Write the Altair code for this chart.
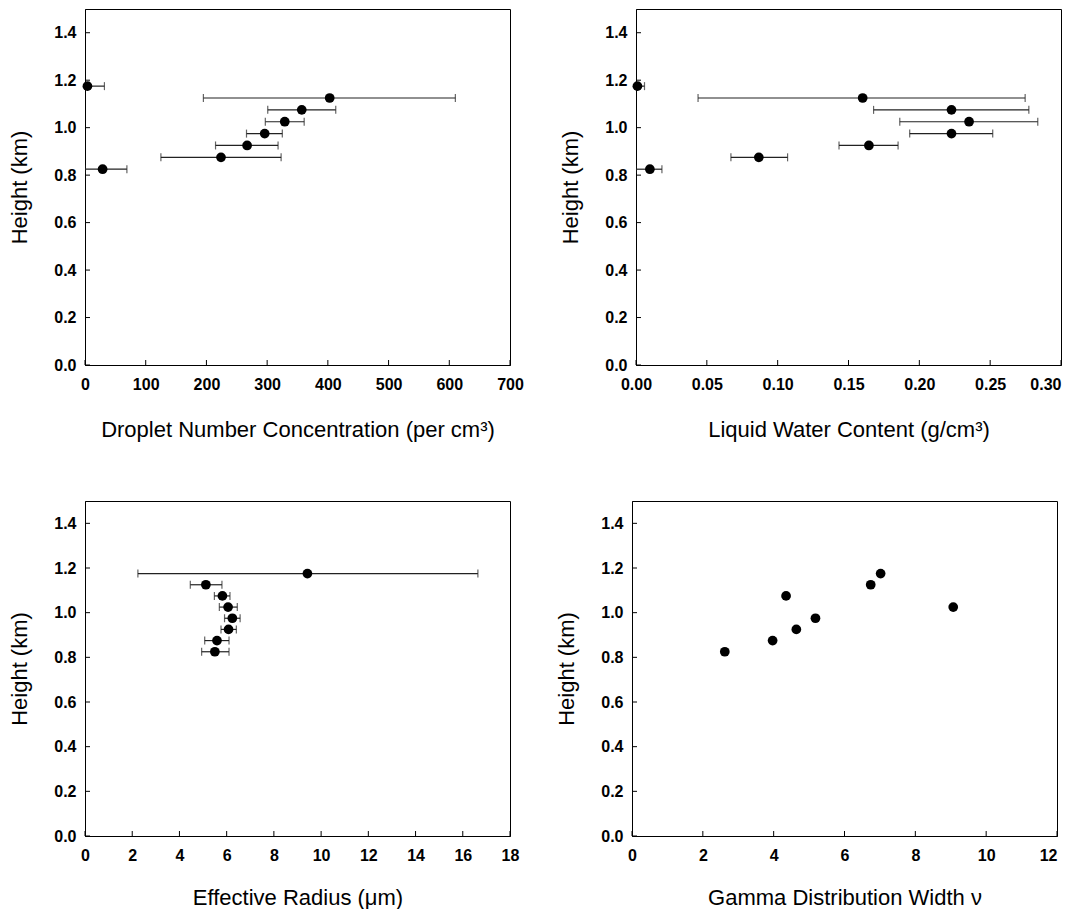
import altair as alt
import pandas as pd

heights = [0.825, 0.875, 0.925, 0.975, 1.025, 1.075, 1.125, 1.175]

n_conc = [29, 224, 267, 296, 329, 357, 403, 4]
n_lo = [0, 125, 215, 266, 297, 301, 195, 0]
n_hi = [69, 323, 318, 325, 361, 413, 610, 32]

lwc = [0.0098, 0.0867, 0.1644, 0.2227, 0.2351, 0.2227, 0.160, 0.001]
lwc_lo = [0.0, 0.067, 0.1433, 0.1932, 0.1862, 0.1677, 0.0438, 0.0]
lwc_hi = [0.0183, 0.107, 0.185, 0.2518, 0.2836, 0.2773, 0.2747, 0.006]

reff = [5.50, 5.59, 6.08, 6.24, 6.06, 5.82, 5.12, 9.42]
reff_lo = [4.94, 5.07, 5.76, 5.91, 5.69, 5.48, 4.46, 2.24]
reff_hi = [6.10, 6.10, 6.41, 6.57, 6.45, 6.14, 5.80, 16.64]

nu = [2.62, 3.97, 4.64, 5.18, 9.07, 4.35, 6.74, 7.02]

y_ticks = [0.0, 0.2, 0.4, 0.6, 0.8, 1.0, 1.2, 1.4]
x_ticks_n = [0, 100, 200, 300, 400, 500, 600, 700]
x_ticks_lwc = [0.0, 0.05, 0.10, 0.15, 0.20, 0.25, 0.30]
x_ticks_reff = [0, 2, 4, 6, 8, 10, 12, 14, 16, 18]
x_ticks_nu = [0, 2, 4, 6, 8, 10, 12]

W = 425
FONT = "Liberation Sans"
LABEL_SIZE = 16
TITLE_SIZE = 22


def panel(x, lo, hi, xdom, xticks, xfmt, xtitle, H, xtitle_pad, flush_last):
    df = pd.DataFrame({"h": heights, "x": x})
    xs = alt.Scale(domain=xdom, nice=False, zero=False)
    ys = alt.Scale(domain=[0, 1.5], nice=False)
    common = dict(ticks=False, tickSize=0, grid=False, labelFlush=False, labelOverlap=False,
                  labelFont=FONT, labelFontSize=LABEL_SIZE, labelFontWeight="bold",
                  labelColor="black", titleFont=FONT, titleFontSize=TITLE_SIZE,
                  titleFontWeight="normal", titleColor="black", domainColor="black")
    xextra = {}
    if flush_last:
        xextra["labelAlign"] = {"condition": {"test": f"datum.value >= {xdom[1] * 0.999}",
                                              "value": "right"},
                                "value": "center"}
    xaxis = alt.Axis(values=xticks, format=xfmt, title=xtitle,
                     labelPadding=11, titlePadding=xtitle_pad, **xextra, **common)
    yaxis = alt.Axis(values=y_ticks, format=".1f", title="Height (km)",
                     labelPadding=9, titlePadding=22, **common)
    layers = []
    # inward ticks
    ytdf = pd.DataFrame({"t": y_ticks})
    layers.append(alt.Chart(ytdf).mark_rule(color="black", strokeWidth=1).encode(
        y=alt.Y("t:Q", scale=ys, axis=yaxis), x=alt.value(0), x2=alt.value(5)))
    xtdf = pd.DataFrame({"t": xticks})
    layers.append(alt.Chart(xtdf).mark_rule(color="black", strokeWidth=1).encode(
        x=alt.X("t:Q", scale=xs, axis=xaxis), y=alt.value(H), y2=alt.value(H - 5)))
    if lo is not None:
        df["lo"] = lo
        df["hi"] = hi
        layers.append(alt.Chart(df).mark_rule(color="#222", strokeWidth=1.2, clip=True).encode(
            x=alt.X("lo:Q", scale=xs), x2="hi:Q", y=alt.Y("h:Q", scale=ys)))
        layers.append(alt.Chart(df).mark_tick(color="#222", orient="vertical", size=8,
                                              thickness=1.2, clip=True).encode(
            x=alt.X("lo:Q", scale=xs), y=alt.Y("h:Q", scale=ys)))
        layers.append(alt.Chart(df).mark_tick(color="#222", orient="vertical", size=8,
                                              thickness=1.2, clip=True).encode(
            x=alt.X("hi:Q", scale=xs), y=alt.Y("h:Q", scale=ys)))
    layers.append(alt.Chart(df).mark_circle(color="black", opacity=1, size=95).encode(
        x=alt.X("x:Q", scale=xs), y=alt.Y("h:Q", scale=ys)))
    return alt.layer(*layers).properties(width=W, height=H)


p1 = panel(n_conc, n_lo, n_hi, [0, 700], x_ticks_n, "d",
           "Droplet Number Concentration (per cm³)", 356, 27, False)
p2 = panel(lwc, lwc_lo, lwc_hi, [0, 0.30], x_ticks_lwc, ".2f",
           "Liquid Water Content (g/cm³)", 356, 27, True)
p3 = panel(reff, reff_lo, reff_hi, [0, 18], x_ticks_reff, "d",
           "Effective Radius (μm)", 335, 24, False)
p4 = panel(nu, None, None, [0, 12], x_ticks_nu, "d",
           "Gamma Distribution Width  ν", 335, 24, True)

chart = alt.vconcat(
    alt.hconcat(p1, p2, spacing=35),
    alt.hconcat(p3, p4, spacing=35),
    spacing=59,
).properties(
    padding={"left": 0, "top": 0, "right": 0, "bottom": 0},
    background="white",
).configure_view(
    stroke="black", strokeWidth=1
).configure_axis(
    domainColor="black", domainWidth=1,
    labelFont=FONT, labelFontSize=LABEL_SIZE, labelFontWeight="bold", labelColor="black",
    titleFont=FONT, titleFontSize=TITLE_SIZE, titleFontWeight="normal", titleColor="black",
)

chart.save("out.html", embed_options={"renderer": "svg", "actions": False})
